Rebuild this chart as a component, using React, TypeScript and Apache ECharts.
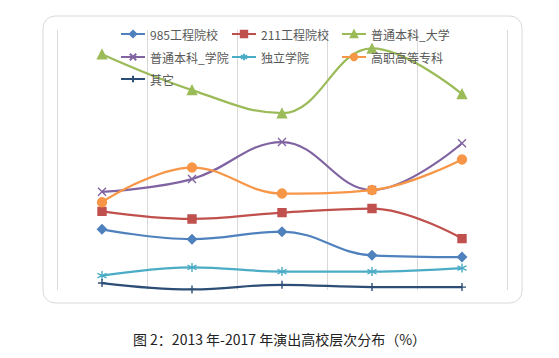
import React, { useEffect, useRef } from "react";
import * as echarts from "echarts";

const years = ["2013", "2014", "2015", "2016", "2017"];
const s985 = [10.5, 8.8, 10.1, 6.0, 5.7];
const s211 = [13.6, 12.3, 13.4, 14.1, 8.9];
const sDaxue = [40.8, 34.6, 30.6, 41.8, 33.9];
const sXueyuan = [17.0, 19.2, 25.6, 17.3, 25.4];
const sDuli = [2.5, 3.9, 3.2, 3.2, 3.8];
const sGaozhi = [15.2, 21.2, 16.7, 17.3, 22.6];
const sQita = [1.2, 0.1, 0.9, 0.5, 0.5];

const titleText = "图 2：2013 年-2017 年演出高校层次分布（%）";

const X_PATH = "path://M0,0L10,10M10,0L0,10";
const STAR_PATH = "path://M5,0L5,10M0.7,2.5L9.3,7.5M9.3,2.5L0.7,7.5";
const PLUS_PATH = "path://M5,0L5,10M0,5L10,5";

export default function App() {
  const ref = useRef<HTMLDivElement>(null);
  useEffect(() => {
    const chart = echarts.init(ref.current!, null, { renderer: "svg" });
    const font = "'Noto Sans CJK SC', 'Noto Sans', sans-serif";
    const mk = (name: string, data: number[], color: string, symbol: string, size: number) => ({
      name,
      type: "line",
      data,
      smooth: 0.4,
      symbol,
      symbolSize: size,
      showSymbol: true,
      lineStyle: { color, width: 2.25 },
      itemStyle: { color, borderColor: color, borderWidth: 1.4 },
      emphasis: { disabled: true },
    });
    const legendItem = (name: string, left: number, top: number) => ({
      data: [name],
      left,
      top,
      padding: 0,
      itemWidth: 24,
      itemHeight: 8,
      selectedMode: false,
      textStyle: { fontSize: 12, color: "#595959", fontFamily: font },
    });
    chart.setOption({
      animation: false,
      backgroundColor: "#ffffff",
      title: {
        text: titleText,
        left: "center",
        top: 327,
        textStyle: { fontSize: 14, fontWeight: "normal", color: "#222", fontFamily: font },
      },
      legend: [
        legendItem("985工程院校", 120, 28),
        legendItem("211工程院校", 231, 28),
        legendItem("普通本科_大学", 341, 28),
        legendItem("普通本科_学院", 120, 51),
        legendItem("独立学院", 231, 51),
        legendItem("高职高等专科", 341, 51),
        legendItem("其它", 120, 73),
      ],
      grid: { left: 57, right: 52, top: 30, bottom: 68 },
      xAxis: {
        type: "category",
        data: years,
        boundaryGap: true,
        axisLine: { show: false },
        axisTick: { show: false },
        axisLabel: { show: false },
        splitLine: { show: true, lineStyle: { color: "#d9d9d9", width: 1 } },
      },
      yAxis: {
        type: "value",
        min: 0,
        max: 45,
        interval: 5,
        axisLine: { show: false },
        axisTick: { show: false },
        axisLabel: { show: false },
        splitLine: { show: false },
      },
      graphic: [
        {
          type: "rect",
          shape: { x: 43, y: 16, width: 479, height: 287, r: 12 },
          style: { fill: "none", stroke: "#d9d9d9", lineWidth: 1 },
          silent: true,
        },
      ],
      series: [
        mk("985工程院校", s985, "#4f81bd", "diamond", 9),
        mk("211工程院校", s211, "#c0504d", "rect", 8),
        mk("普通本科_大学", sDaxue, "#9bbb59", "triangle", 9),
        mk("普通本科_学院", sXueyuan, "#8064a2", X_PATH, 8),
        mk("独立学院", sDuli, "#4bacc6", STAR_PATH, 9),
        mk("高职高等专科", sGaozhi, "#f79646", "circle", 9),
        mk("其它", sQita, "#2c4d75", PLUS_PATH, 8),
      ],
    });
    return () => chart.dispose();
  }, []);
  return (
    <div
      ref={ref}
      style={{ position: "absolute", left: 0, top: 0, width: 559, height: 358 }}
    />
  );
}
